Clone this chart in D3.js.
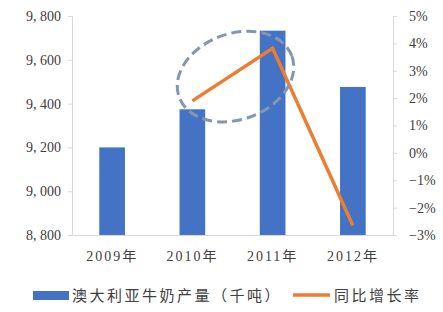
<!DOCTYPE html>
<html>
<head>
<meta charset="utf-8">
<script src="https://cdn.jsdelivr.net/npm/d3@7"></script>
<style>
  body { margin: 0; background: #fff; }
  text { font-family: "Liberation Serif", "Noto Sans CJK SC", serif; fill: #404040; }
</style>
</head>
<body>
<div id="chart"></div>
<script>
// data
years = ["2009年", "2010年", "2011年", "2012年"]
output = [9200, 9374, 9733, 9476]          // 澳大利亚牛奶产量（千吨）
growth = [null, 1.9, 3.82, -2.65]           // 同比增长率 (%)
leftTicks = [8800, 9000, 9200, 9400, 9600, 9800]
rightTicks = [-3, -2, -1, 0, 1, 2, 3, 4, 5]

width = 443
height = 312
margin = ({top: 16, right: 50, bottom: 77, left: 72})
plotW = width - margin.left - margin.right
plotH = height - margin.top - margin.bottom

svg = d3.select("#chart").append("svg")
  .attr("width", width)
  .attr("height", height)

g = svg.append("g")
  .attr("transform", `translate(${margin.left},${margin.top})`)

x = d3.scaleBand().domain(years).range([0, plotW]).paddingInner(0.68).paddingOuter(0.34)
yL = d3.scaleLinear().domain([8800, 9800]).range([plotH, 0])
yR = d3.scaleLinear().domain([-3, 5]).range([plotH, 0])

fmtL = d => d3.format(",")(d).replace(",", ", ")
fmtR = d => (d < 0 ? "\u2212" + Math.abs(d) : d) + "%"

// left axis
g.append("g")
  .call(d3.axisLeft(yL).tickValues(leftTicks).tickFormat(fmtL).tickSize(4).tickPadding(7))
  .call(a => a.select(".domain").attr("stroke", "#d9d9d9"))
  .call(a => a.selectAll("line").attr("stroke", "#d9d9d9"))
  .call(a => a.selectAll("text").attr("font-size", 14).attr("fill", "#404040"))

// right axis
g.append("g")
  .attr("transform", `translate(${plotW},0)`)
  .call(d3.axisRight(yR).tickValues(rightTicks).tickFormat(fmtR).tickSize(4).tickPadding(12))
  .call(a => a.select(".domain").attr("stroke", "#d9d9d9"))
  .call(a => a.selectAll("line").attr("stroke", "#d9d9d9"))
  .call(a => a.selectAll("text").attr("font-size", 14).attr("fill", "#404040"))

// bars
g.selectAll(".bar")
  .data(years.map((d, i) => [d, output[i]]))
  .join("rect")
  .attr("class", "bar")
  .attr("x", d => x(d[0]))
  .attr("y", d => yL(d[1]))
  .attr("width", x.bandwidth())
  .attr("height", d => plotH - yL(d[1]))
  .style("fill", "#4472c4")

// bottom axis
g.append("g")
  .attr("transform", `translate(0,${plotH})`)
  .call(d3.axisBottom(x).tickSize(0).tickPadding(16))
  .call(a => a.select(".domain").attr("stroke", "#d9d9d9"))
  .call(a => a.selectAll("text").attr("font-size", 14).attr("fill", "#404040").attr("letter-spacing", 2))

// growth line
lineData = years.map((d, i) => [d, growth[i]]).filter(d => d[1] != null)
g.append("path")
  .datum(lineData)
  .attr("fill", "none")
  .attr("stroke", "#ed7d31")
  .attr("stroke-width", 3.5)
  .attr("d", d3.line()
    .x(d => x(d[0]) + x.bandwidth() / 2)
    .y(d => yR(d[1])))

// dashed ellipse around 2010-2011 rise
cx = (x(years[1]) + x(years[2]) + x.bandwidth()) / 2 + 3
cy = (yR(growth[1]) + yR(growth[2])) / 2 + 2
g.append("ellipse")
  .attr("cx", cx)
  .attr("cy", cy)
  .attr("rx", 60)
  .attr("ry", 43)
  .attr("transform", `rotate(-20,${cx},${cy})`)
  .attr("fill", "none")
  .attr("stroke", "#8497b0")
  .attr("stroke-width", 3)
  .attr("stroke-dasharray", "10,5")

// legend
leg = svg.append("g").attr("transform", "translate(0,295)")
leg.append("rect").attr("x", 33).attr("y", -4).attr("width", 36).attr("height", 9).style("fill", "#4472c4")
leg.append("text").attr("x", 72).attr("y", 6).attr("font-size", 15).attr("letter-spacing", 2.5)
  .text("澳大利亚牛奶产量（千吨）")
leg.append("line").attr("x1", 293).attr("x2", 330).attr("y1", 0).attr("y2", 0)
  .attr("stroke", "#ed7d31").attr("stroke-width", 3.5)
leg.append("text").attr("x", 334).attr("y", 6).attr("font-size", 15).attr("letter-spacing", 2.5)
  .text("同比增长率")
</script>
</body>
</html>
